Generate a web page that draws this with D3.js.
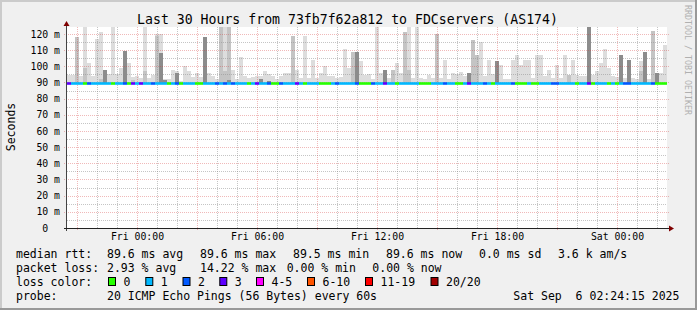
<!DOCTYPE html>
<html lang="en">

<head>
  <meta charset="UTF-8">
  <title>Smokeping 30 hours</title>
  <style>
    body { margin: 0; background: #f0f0f0; }
    svg { display: block; font-family: 'DejaVu Sans Mono', monospace; }
    svg text { white-space: pre; }
  </style>
</head>

<body>
  <div id="chart"></div>

  <script src="https://cdn.jsdelivr.net/npm/d3@7/dist/d3.min.js"></script>

  <script>
    const title = 'Last 30 Hours from 73fb7f62a812 to FDCservers (AS174)'
    const startTime = new Date(2025, 8, 4, 20, 30)
    const endTime = new Date(2025, 8, 6, 2, 30)
    const stepMinutes = 12
    const yMax = 124.3
    const smokeFloor = 89.4
    const yTicks = [0, 10, 20, 30, 40, 50, 60, 70, 80, 90, 100, 110, 120]

    // ms, one value per 12 minute column
    const smokeTop = [
      94.5, 94.5, 118, 94, 125, 102, 94, 117, 121, 97.6, 95, 125, 95, 99, 109.4, 102, 93.5, 94, 92.5, 125, 92.5, 94.5, 120, 120, 92,
      92, 98, 97, 91, 100, 97, 93.5, 96, 93.5, 118, 96, 94, 92, 125, 125, 125, 98, 92, 106, 94, 93, 93.5, 94, 94, 97,
      95, 94, 92, 94, 96, 96, 119, 98, 93, 119, 93, 104, 93, 96, 100, 94, 94, 93, 93.5, 111, 99, 109, 109, 103, 94.5,
      95, 92, 125, 96, 98, 92.5, 98, 102, 96, 121, 125, 93, 125, 93, 92, 94.5, 93, 120, 93, 104, 92, 96, 95.5, 96.5, 94,
      96, 116, 107, 115, 94, 104, 95, 103, 101, 92, 92, 104, 107, 100.7, 103.6, 103.6, 93, 107, 107, 94, 98, 92.5, 101, 92.5, 107,
      94.5, 104, 94.5, 94, 94, 125, 94.5, 97, 102, 111, 99, 94, 93.5, 107, 92.5, 104, 92.5, 92, 103, 109, 92, 121.7, 96, 96, 113
    ]
    const smokeMid = [
      0, 0, 118, 0, 99, 0, 0, 0, 92, 0, 0, 0, 0, 0, 0, 0, 91.5, 0, 0, 97, 0, 0, 119, 0, 0,
      0, 0, 0, 0, 0, 0, 0, 0, 0, 0, 0, 0, 0, 125, 97, 125, 0, 0, 0, 0, 0, 0, 0, 0, 0,
      0, 0, 0, 0, 0, 0, 119, 0, 0, 0, 0, 0, 0, 0, 0, 0, 0, 0, 0, 0, 0, 109, 0, 0, 0,
      0, 0, 0, 0, 0, 0, 98, 0, 0, 121, 98, 0, 0, 0, 0, 0, 0, 120, 0, 0, 0, 0, 0, 0, 0,
      0, 116, 107, 0, 0, 0, 0, 0, 0, 0, 0, 0, 0, 0, 0, 0, 0, 0, 0, 0, 0, 0, 0, 0, 0,
      94.5, 0, 0, 0, 0, 0, 0, 0, 0, 0, 0, 0, 0, 0, 0, 0, 0, 0, 97, 0, 0, 121.7, 0, 0, 0
    ]
    const smokeDark = [
      0, 0, 0, 0, 0, 0, 0, 0, 0, 97.6, 0, 0, 0, 0, 109.4, 0, 0, 0, 0, 0, 0, 0, 0, 108, 91.6,
      0, 0, 96, 0, 0, 0, 0, 0, 0, 118, 0, 0, 0, 0, 0, 91.6, 0, 0, 0, 0, 0, 0, 0, 92, 0,
      91, 0, 0, 0, 0, 0, 0, 0, 0, 0, 0, 0, 0, 0, 0, 0, 0, 0, 0, 0, 0, 0, 109, 0, 0,
      0, 0, 0, 0, 98, 0, 0, 0, 0, 0, 0, 0, 0, 0, 0, 0, 0, 0, 0, 0, 0, 0, 0, 0, 0,
      96, 0, 0, 0, 0, 0, 0, 103, 0, 0, 0, 0, 0, 0, 0, 0, 0, 0, 0, 0, 0, 0, 0, 0, 0,
      0, 0, 0, 0, 0, 125, 0, 0, 0, 0, 0, 0, 0, 107, 0, 104, 0, 0, 0, 109, 0, 0, 96, 0, 0
    ]
    const medianRtt = [
      89.6, 89.6, 89.6, 89.6, 89.6, 89.6, 89.6, 89.6, 89.6, 89.6, 89.6, 89.6, 89.6, 89.6, 89.6, 89.6, 89.6, 89.6, 89.6, 89.6, 89.6, 89.6, 89.6, 89.6, 89.6,
      89.6, 89.6, 89.6, 89.6, 89.6, 89.6, 89.6, 89.6, 89.6, 89.6, 89.6, 89.6, 89.6, 89.6, 89.6, 89.6, 89.6, 89.6, 89.6, 89.6, 89.6, 89.6, 89.6, 89.6, 89.6,
      89.6, 89.6, 89.6, 89.6, 89.6, 89.6, 89.6, 89.6, 89.6, 89.6, 89.6, 89.6, 89.6, 89.6, 89.6, 89.6, 89.6, 89.6, 89.6, 89.6, 89.6, 89.6, 89.6, 89.6, 89.6,
      89.6, 89.6, 89.6, 89.6, 89.6, 89.6, 89.6, 89.6, 89.6, 89.6, 89.6, 89.6, 89.6, 89.6, 89.6, 89.6, 89.6, 89.6, 89.6, 89.6, 89.6, 89.6, 89.6, 89.6, 89.6,
      89.6, 89.6, 89.6, 89.6, 89.6, 89.6, 89.6, 89.6, 89.6, 89.6, 89.6, 89.6, 89.6, 89.6, 89.6, 89.6, 89.6, 89.6, 89.6, 89.6, 89.6, 89.6, 89.6, 89.6, 89.6,
      89.6, 89.6, 89.6, 89.6, 89.6, 89.6, 89.6, 89.6, 89.6, 89.6, 89.6, 89.6, 89.6, 89.6, 89.6, 89.6, 89.6, 89.6, 89.6, 89.6, 89.6, 89.6, 89.6, 89.6, 89.6
    ]
    // lost pings (of 20) per column
    const lossCount = [
      3, 1, 1, 1, 0, 2, 1, 1, 1, 1, 1, 0, 1, 1, 2, 0, 3, 1, 3, 1, 1, 2, 1, 1, 1,
      0, 1, 2, 0, 1, 1, 1, 0, 0, 1, 1, 1, 2, 1, 2, 1, 2, 1, 1, 1, 0, 1, 3, 1, 1,
      2, 0, 0, 2, 1, 1, 1, 3, 1, 0, 1, 1, 1, 0, 0, 0, 1, 2, 1, 1, 1, 1, 2, 0, 0,
      0, 2, 1, 1, 3, 1, 1, 0, 1, 1, 1, 1, 1, 0, 0, 0, 1, 1, 1, 2, 1, 1, 0, 0, 1,
      3, 1, 1, 1, 2, 1, 0, 1, 1, 1, 1, 2, 0, 0, 0, 1, 0, 0, 1, 1, 1, 2, 2, 1, 1,
      1, 1, 0, 1, 1, 3, 0, 1, 1, 1, 0, 1, 0, 1, 2, 2, 1, 1, 1, 1, 1, 2, 0, 0, 0
    ]
    const lossLabels = ['0', '1', '2', '3', '4-5', '6-10', '11-19', '20/20']
    const lossColors = ['#26ff00', '#00b8ff', '#0059ff', '#5e00ff', '#ff00ff', '#ff5500', '#ff0000', '#a10000']
    const rttStats = ['89.6 ms avg', '89.6 ms max', '89.5 ms min', '89.6 ms now', '0.0 ms sd', '3.6 k am/s']
    const lossStats = ['2.93 % avg', '14.22 % max', '0.00 % min', '0.00 % now']
    const probeText = '20 ICMP Echo Pings (56 Bytes) every 60s'
    const stampText = 'Sat Sep  6 02:24:15 2025'

    const width = 697
    const height = 310
    const plot = { left: 67, right: 667, top: 27, bottom: 228 }
    const gridColor = 'rgba(140,140,140,0.5)'
    const mgridColor = 'rgba(210,50,50,0.34)'

    const svg = d3.select('#chart').append('svg').attr('width', width).attr('height', height)

    svg.append('rect').attr('width', width).attr('height', height).attr('fill', '#f0f0f0')
    svg.append('path').attr('d', `M1,${height} V1 H${width}`).attr('fill', 'none').attr('stroke', '#cbcbcb').attr('stroke-width', 2)
    svg.append('path').attr('d', `M${width - 1},0 V${height - 1} H0`).attr('fill', 'none').attr('stroke', '#999').attr('stroke-width', 2)

    svg.append('rect').attr('x', plot.left).attr('y', plot.top)
      .attr('width', plot.right - plot.left).attr('height', plot.bottom - plot.top).attr('fill', '#fff')

    const x = d3.scaleTime().domain([startTime, endTime]).range([plot.left, plot.right])
    const y = d3.scaleLinear().domain([0, yMax]).range([plot.bottom, plot.top])

    const times = smokeTop.map((d, i) => d3.timeMinute.offset(startTime, i * stepMinutes))
    const colX = i => x(times[i])
    const colW = i => x(d3.timeMinute.offset(times[i], stepMinutes)) - x(times[i])

    // smoke
    const layers = [
      { values: smokeTop, color: '#dddddd' },
      { values: smokeMid, color: '#c4c4c4' },
      { values: smokeDark, color: '#8c8c8c' }
    ]
    layers.forEach(layer => {
      const cols = layer.values.map((v, i) => ({ v: Math.min(v, yMax), i })).filter(d => d.v > 0)
      svg.append('g').attr('shape-rendering', 'crispEdges')
        .selectAll('rect').data(cols).enter().append('rect')
        .attr('x', d => colX(d.i))
        .attr('width', d => colW(d.i))
        .attr('y', d => y(d.v))
        .attr('height', d => y(smokeFloor) - y(d.v))
        .attr('fill', layer.color)
    })

    // grid
    const grid = svg.append('g').attr('fill', 'none').attr('stroke-width', 1).attr('stroke-dasharray', '1,1')
    const hours = x.ticks(d3.timeHour.every(1))
    const px = v => Math.round(v) + 0.5

    grid.selectAll('.hmin').data(d3.range(5, 125, 10)).enter().append('line')
      .attr('x1', plot.left).attr('x2', plot.right)
      .attr('y1', d => px(y(d))).attr('y2', d => px(y(d)))
      .attr('stroke', gridColor)
    grid.selectAll('.vmin').data(hours.filter(t => t.getHours() % 3 !== 0)).enter().append('line')
      .attr('x1', d => px(x(d))).attr('x2', d => px(x(d)))
      .attr('y1', plot.top).attr('y2', plot.bottom)
      .attr('stroke', gridColor)
    grid.selectAll('.hmaj').data(yTicks.filter(d => d > 0)).enter().append('line')
      .attr('x1', plot.left - 3).attr('x2', plot.right + 2)
      .attr('y1', d => px(y(d))).attr('y2', d => px(y(d)))
      .attr('stroke', mgridColor)
    grid.selectAll('.vmaj').data(hours.filter(t => t.getHours() % 3 === 0)).enter().append('line')
      .attr('x1', d => px(x(d))).attr('x2', d => px(x(d)))
      .attr('y1', plot.top).attr('y2', plot.bottom + 3)
      .attr('stroke', mgridColor)

    // median line coloured by loss
    svg.append('g')
      .selectAll('rect').data(medianRtt).enter().append('rect')
      .attr('x', (d, i) => colX(i))
      .attr('width', (d, i) => colW(i))
      .attr('y', d => Math.round(y(d)) - 0.8)
      .attr('height', 2.6)
      .attr('fill', (d, i) => lossColors[lossCount[i]])

    // axes
    const yAxis = d3.axisLeft(y).tickValues(yTicks).tickSize(0).tickPadding(7)
      .tickFormat(d => d === 0 ? '0' : d + ' m')
    const gY = svg.append('g').attr('transform', `translate(${plot.left},0)`).call(yAxis)
    gY.select('.domain').remove()
    gY.selectAll('text').attr('font-family', 'DejaVu Sans Mono').attr('font-size', 9.8).attr('fill', '#000')
      .attr('x', d => d === 0 ? -18.8 : -7)

    const xAxis = d3.axisBottom(x).ticks(d3.timeHour.every(6)).tickSize(0).tickPadding(5.5)
      .tickFormat(d3.timeFormat('%a %H:%M'))
    const gX = svg.append('g').attr('transform', `translate(0,${plot.bottom})`).call(xAxis)
    gX.select('.domain').remove()
    gX.selectAll('text').attr('font-family', 'DejaVu Sans Mono').attr('font-size', 9.8).attr('fill', '#000')

    svg.append('line').attr('x1', plot.left - 0.5).attr('x2', plot.left - 0.5)
      .attr('y1', plot.bottom + 3).attr('y2', plot.top - 4).attr('stroke', '#444')
    svg.append('line').attr('x1', plot.left - 3).attr('x2', plot.right + 3)
      .attr('y1', plot.bottom + 0.5).attr('y2', plot.bottom + 0.5).attr('stroke', '#222')
    svg.append('path').attr('fill', '#7f0000')
      .attr('d', `M${plot.left - 3.5},${plot.top - 1} L${plot.left + 2.5},${plot.top - 1} L${plot.left - 0.5},${plot.top - 6} Z`)
    svg.append('path').attr('fill', '#7f0000')
      .attr('d', `M${plot.right + 2},${plot.bottom - 2.5} L${plot.right + 2},${plot.bottom + 3.5} L${plot.right + 7},${plot.bottom + 0.5} Z`)

    // titles
    svg.append('text').attr('x', 347.5).attr('y', 23.5).attr('text-anchor', 'middle')
      .attr('font-size', 13.2).text(title)
    svg.append('text').attr('transform', 'translate(14.5,127) rotate(-90)').attr('text-anchor', 'middle')
      .attr('font-size', 11.5).text('Seconds')
    svg.append('text').attr('transform', 'translate(684.5,5) rotate(90)')
      .attr('font-size', 8.3).attr('fill', '#b0b0b0').text('RRDTOOL / TOBI OETIKER')

    // legend
    const legend = svg.append('g').attr('font-size', 11.5).attr('fill', '#000')
    const put = (xx, yy, t) => legend.append('text').attr('xml:space', 'preserve')
      .attr('x', xx).attr('y', yy).text(t)
    const row = (yy, label, items, xs) => {
      put(16, yy, label)
      items.forEach((t, i) => put(xs[i], yy, t))
    }
    row(257.7, 'median rtt:', rttStats, [107, 200, 293, 386, 479, 558])
    row(271.7, 'packet loss:', lossStats, [107, 200, 286.7, 372.3])
    put(16, 285.7, 'loss color:')
    const swatchX = [108.5, 145.8, 183, 219.8, 256.5, 307.5, 365.5, 431]
    lossLabels.forEach((l, i) => {
      legend.append('rect').attr('x', swatchX[i]).attr('y', 277.5).attr('width', 7).attr('height', 8)
        .attr('fill', lossColors[i]).attr('stroke', '#000').attr('stroke-width', 1)
      put(swatchX[i] + 15, 285.7, l)
    })
    put(16, 299.7, 'probe:')
    put(107, 299.7, probeText)
    put(513.3, 299.7, stampText)
  </script>
</body>

</html>
